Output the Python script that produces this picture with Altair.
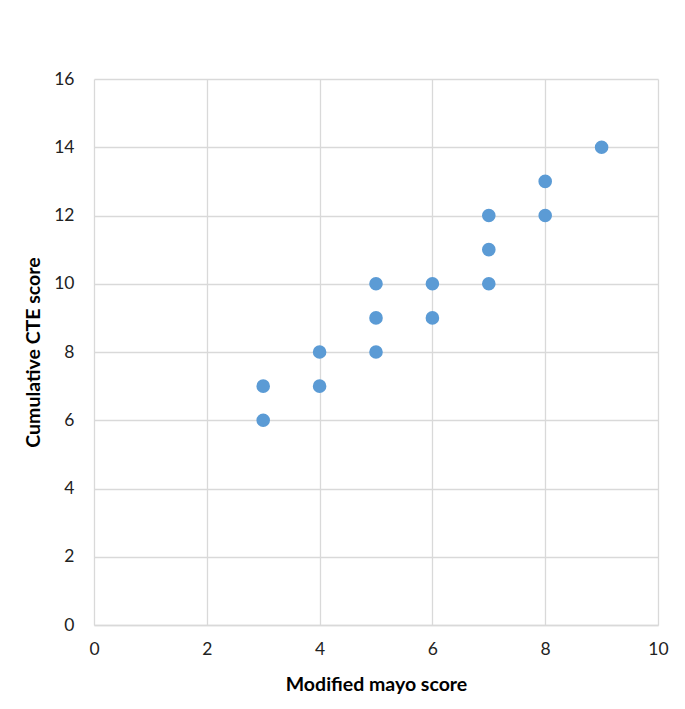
import altair as alt
import pandas as pd

mayo = [3, 3, 4, 4, 5, 5, 5, 6, 6, 7, 7, 7, 8, 8, 9]
cte = [7, 6, 8, 7, 10, 9, 8, 10, 9, 12, 11, 10, 13, 12, 14]

df = pd.DataFrame({"mayo": mayo, "cte": cte})

chart = alt.Chart(df).mark_circle(size=185, color="#5B9BD5", opacity=1).encode(
    x=alt.X("mayo:Q", title="Modified mayo score",
            scale=alt.Scale(domain=[0, 10], nice=False, zero=True),
            axis=alt.Axis(values=[0, 2, 4, 6, 8, 10], labelPadding=15, titlePadding=18,
                          labelFlush=False)),
    y=alt.Y("cte:Q", title="Cumulative CTE score",
            scale=alt.Scale(domain=[0, 16], nice=False),
            axis=alt.Axis(values=[0, 2, 4, 6, 8, 10, 12, 14, 16], labelPadding=20, titlePadding=10,
                          labelFlush=False)),
).properties(
    width=564, height=546,
    autosize=alt.AutoSizeParams(type="none"),
    padding={"left": 86, "top": 71, "right": 19, "bottom": 76},
).configure_view(
    stroke=None
).configure_axis(
    grid=True, gridColor="#d9d9d9", gridWidth=1.3,
    domain=False, ticks=False,
    labelFont="Lato", labelFontSize=17.5, labelColor="#222222",
    titleFont="Lato", titleFontSize=19.5, titleFontWeight="bold", titleColor="#000000",
).configure_axisX(
    domain=True, domainColor="#d9d9d9", domainWidth=1.3
)

chart.save("out.html", embed_options={"renderer": "svg", "actions": False})
